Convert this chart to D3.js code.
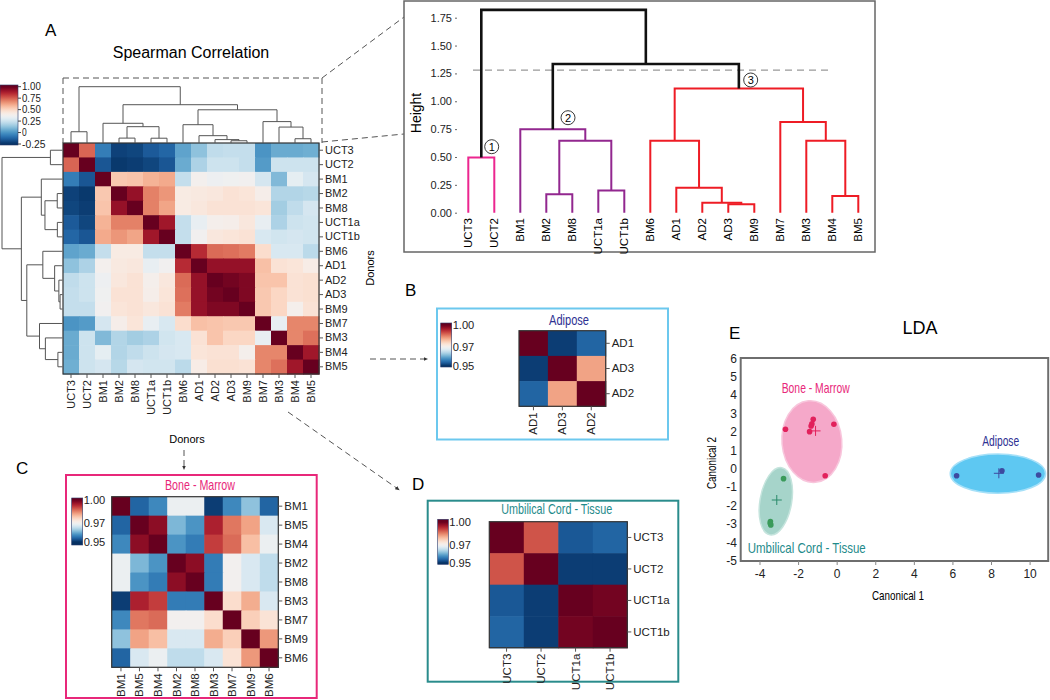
<!DOCTYPE html>
<html><head><meta charset="utf-8">
<script src="https://cdn.jsdelivr.net/npm/d3@7"></script>
<style>body{margin:0;background:#fff;} svg{display:block;}</style>
</head><body><svg id="c" width="1050" height="700"></svg>
<script>
// ---------------- DATA ----------------
const leaves = ["UCT3","UCT2","BM1","BM2","BM8","UCT1a","UCT1b","BM6","AD1","AD2","AD3","BM9","BM7","BM3","BM4","BM5"];
// merges: indices < 16 are leaves, >= 16 are earlier merges (16 + k)
const mergePairs = [[10,11],[9,16],[8,17],[7,18],[14,15],[13,20],[12,21],[19,22],[3,4],[5,6],[24,25],[2,26],[27,23],[0,1],[29,28]];
const mergeHeights = [0.075,0.09,0.225,0.645,0.15,0.645,0.815,1.115,0.165,0.2,0.645,0.75,1.335,0.495,1.82];
const mergeGroups = ["red","red","red","red","red","red","red","red","purple","purple","purple","purple","black","pink","black"];
const heatDendroHeights = [0.04,0.06,0.13,0.325,0.076,0.283,0.38,0.59,0.087,0.085,0.29,0.35,0.68,0.2,1.0];
const heightTicks = [0,0.25,0.5,0.75,1.0,1.25,1.5,1.75];
const cutHeight = 1.28;

const corrA = [
 [1.00,0.74,-0.06,-0.21,-0.20,-0.15,-0.12,0.04,0.125,0.22,0.23,0.23,0.00,0.06,0.06,0.07],
 [0.74,1.00,-0.16,-0.23,-0.22,-0.20,-0.16,0.06,0.18,0.25,0.25,0.23,0.02,0.25,0.25,0.25],
 [-0.06,-0.16,1.00,0.54,0.55,0.59,0.61,0.23,0.38,0.35,0.36,0.37,0.27,0.10,0.32,0.27],
 [-0.21,-0.23,0.54,1.00,0.92,0.69,0.65,0.42,0.43,0.44,0.46,0.45,0.40,0.19,0.19,0.20],
 [-0.20,-0.22,0.55,0.92,1.00,0.69,0.62,0.42,0.44,0.46,0.46,0.46,0.45,0.16,0.22,0.27],
 [-0.15,-0.20,0.59,0.69,0.69,1.00,0.90,0.23,0.33,0.39,0.40,0.44,0.33,0.18,0.25,0.26],
 [-0.12,-0.16,0.61,0.65,0.62,0.90,1.00,0.23,0.37,0.44,0.45,0.46,0.28,0.26,0.27,0.26],
 [0.04,0.06,0.23,0.42,0.42,0.23,0.23,1.00,0.85,0.73,0.72,0.70,0.48,0.28,0.28,0.21],
 [0.125,0.18,0.38,0.43,0.44,0.33,0.37,0.85,1.00,0.92,0.92,0.92,0.56,0.46,0.45,0.41],
 [0.22,0.25,0.35,0.44,0.46,0.39,0.44,0.73,0.92,1.00,0.98,0.96,0.55,0.55,0.46,0.47],
 [0.23,0.25,0.36,0.46,0.46,0.40,0.45,0.72,0.92,0.98,1.00,0.96,0.54,0.50,0.46,0.47],
 [0.23,0.23,0.37,0.45,0.46,0.44,0.46,0.70,0.92,0.96,0.96,1.00,0.54,0.50,0.39,0.46],
 [0.00,0.02,0.27,0.40,0.45,0.33,0.28,0.48,0.56,0.55,0.54,0.54,1.00,0.33,0.68,0.68],
 [0.06,0.25,0.10,0.19,0.16,0.18,0.26,0.28,0.46,0.55,0.50,0.50,0.33,1.00,0.68,0.72],
 [0.06,0.25,0.32,0.19,0.22,0.25,0.27,0.28,0.45,0.46,0.46,0.39,0.68,0.68,1.00,0.90],
 [0.07,0.25,0.27,0.20,0.27,0.26,0.26,0.21,0.41,0.47,0.47,0.46,0.68,0.72,0.90,1.00]
];
const legendATicks = [1.0,0.75,0.5,0.25,0,-0.25];
const legendATickLabels = ["1.00","0.75","0.50","0.25","0","-0.25"];

const adLabels = ["AD1","AD3","AD2"];
const corrB = [
 [1.000,0.951,0.954],
 [0.951,1.000,0.982],
 [0.954,0.982,1.000]
];
const bmLabels = ["BM1","BM5","BM4","BM2","BM8","BM3","BM7","BM9","BM6"];
const corrC = [
 [1.000,0.954,0.957,0.969,0.969,0.951,0.957,0.962,0.954],
 [0.954,1.000,0.997,0.961,0.958,0.994,0.986,0.982,0.967],
 [0.957,0.997,1.000,0.958,0.956,0.991,0.987,0.979,0.969],
 [0.969,0.961,0.958,1.000,0.997,0.956,0.970,0.967,0.965],
 [0.969,0.958,0.956,0.997,1.000,0.956,0.970,0.967,0.965],
 [0.951,0.994,0.991,0.956,0.956,1.000,0.975,0.981,0.967],
 [0.957,0.986,0.987,0.970,0.970,0.975,1.000,0.977,0.974],
 [0.962,0.982,0.979,0.967,0.967,0.981,0.977,1.000,0.983],
 [0.954,0.967,0.969,0.965,0.965,0.967,0.974,0.983,1.000]
];
const uctLabels = ["UCT3","UCT2","UCT1a","UCT1b"];
const corrD = [
 [1.000,0.989,0.953,0.954],
 [0.989,1.000,0.951,0.951],
 [0.953,0.951,1.000,0.999],
 [0.954,0.951,0.999,1.000]
];
const subLegendTicks = [1.0,0.97,0.95];
const subLegendLabels = ["1.00","0.97","0.95"];

// LDA
const bmX = [-2.68,-1.24,-1.31,-1.35,-1.43,-0.17,-0.62];
const bmY = [2.15,2.69,2.44,2.33,2.02,2.42,-0.37];
const adX = [6.19,8.54,10.44];
const adY = [-0.37,-0.10,-0.33];
const uctX = [-2.78,-3.46,-3.44,-3.47];
const uctY = [-0.53,-2.86,-3.04,-2.95];
const centroidX = [-1.12,8.38,-3.13];
const centroidY = [2.06,-0.24,-1.69];
const ellipseCX = [-1.31,8.33,-3.18];
const ellipseCY = [1.48,-0.26,-1.76];
const ellipseRX = [1.55,2.47,0.82];
const ellipseRY = [2.22,1.06,1.85];
const ellipseRot = [-5,0,10];
const xTicksE = [-4,-2,0,2,4,6,8,10];
const yTicksE = [6,5,4,3,2,1,0,-1,-2,-3,-4,-5];

// ---------------- DRAW ----------------
const F = '"Liberation Sans", Arial, Helvetica, sans-serif';
const svg = d3.select("#c").attr("font-family", F);
svg.append("rect").attr("width",1050).attr("height",700).attr("fill","#fff");
const defs = svg.append("defs");
defs.append("marker").attr("id","arr").attr("viewBox","0 0 10 10").attr("refX",5).attr("refY",5)
  .attr("markerWidth",5).attr("markerHeight",5).attr("orient","auto")
  .append("path").attr("d","M0,1 L9,5 L0,9 Z").attr("fill","#333");

const colA = d3.scaleDiverging([-0.25, 0.375, 1.0], t => d3.interpolateRdBu(1 - t));
const colS = d3.scaleDiverging([0.95, 0.97, 1.0], t => d3.interpolateRdBu(1 - t));

function nodePositions(leafPos, heights) {
  const pos = leaves.map((l,i) => leafPos(i));
  const h = leaves.map(() => 0);
  mergePairs.forEach((p,k) => { pos.push((pos[p[0]] + pos[p[1]]) / 2); h.push(heights[k]); });
  return {pos, h};
}

let gid = 0;
function heatmap(g, labels, M, color, X0, X1, Y0, Y1, fs) {
  const x = d3.scaleBand(labels, [X0, X1]);
  const y = d3.scaleBand(labels, [Y0, Y1]);
  labels.forEach((r,i) => labels.forEach((c,j) => {
    g.append("rect").attr("x", x(c)).attr("y", y(r))
      .attr("width", x.bandwidth()+0.6).attr("height", y.bandwidth()+0.6)
      .attr("fill", color(M[i][j]));
  }));
  g.append("rect").attr("x",X0).attr("y",Y0).attr("width",X1-X0).attr("height",Y1-Y0)
    .attr("fill","none").attr("stroke","#333").attr("stroke-width",1.2);
  const ra = g.append("g").attr("transform",`translate(${X1},0)`).call(d3.axisRight(y).tickSize(4).tickPadding(2));
  ra.select(".domain").remove();
  ra.attr("font-family",F).attr("font-size",fs);
  ra.selectAll("text").attr("fill","#222");
  ra.selectAll("line").attr("stroke","#555");
  const ba = g.append("g").attr("transform",`translate(0,${Y1})`).call(d3.axisBottom(x).tickSize(4).tickPadding(2));
  ba.select(".domain").remove();
  ba.attr("font-family",F).attr("font-size",fs);
  ba.selectAll("line").attr("stroke","#555");
  ba.selectAll("text").attr("fill","#222").attr("transform","rotate(-90)")
    .attr("text-anchor","end").attr("x",-6).attr("y",0).attr("dy","0.35em");
  return {x,y};
}

function legend(g, color, X, w, yTop, yBot, yScale, ticks, tickLabels, fs, tickLen) {
  const id = "lg" + (gid++);
  const grad = defs.append("linearGradient").attr("id",id).attr("gradientUnits","userSpaceOnUse")
    .attr("x1",0).attr("x2",0).attr("y1",yTop).attr("y2",yBot);
  const d = color.domain();
  for (let i = 0; i <= 30; i++) {
    const yy = yTop + (yBot - yTop) * i / 30;
    let v = yScale.invert(yy);
    v = Math.max(d[0], Math.min(d[2], v));
    grad.append("stop").attr("offset", i/30).attr("stop-color", color(v));
  }
  g.append("rect").attr("x",X).attr("y",yTop).attr("width",w).attr("height",yBot-yTop)
    .attr("fill",`url(#${id})`).attr("stroke","#2a3a6a").attr("stroke-width",0.6);
  ticks.forEach((t,i) => {
    if (tickLen > 0) g.append("line").attr("x1",X+w).attr("x2",X+w+tickLen).attr("y1",yScale(t)).attr("y2",yScale(t)).attr("stroke","#444");
    const tx = g.append("text").attr("x",X+w+tickLen+1).attr("y",yScale(t)).attr("dy","0.35em")
      .attr("font-size",fs).attr("fill","#222").text(tickLabels[i]);
    tx.attr("textLength", tickLabels[i].length * fs * 0.47).attr("lengthAdjust","spacingAndGlyphs");
  });
}

function dashed(x1,y1,x2,y2,arrow) {
  const l = svg.append("line").attr("x1",x1).attr("y1",y1).attr("x2",x2).attr("y2",y2)
    .attr("stroke","#555").attr("stroke-width",1).attr("stroke-dasharray","6,4");
  if (arrow) l.attr("marker-end","url(#arr)");
}

// ===== Panel A =====
svg.append("text").attr("x",45).attr("y",36).attr("font-size",17).text("A");
svg.append("text").attr("x",191).attr("y",58).attr("font-size",16).attr("text-anchor","middle").text("Spearman Correlation");

const gA = svg.append("g");
const hA = heatmap(gA, leaves, corrA, colA, 63, 319, 143, 374, 11);
{
  const np = nodePositions(i => hA.x(leaves[i]) + hA.x.bandwidth()/2, heatDendroHeights);
  const yd = d3.scaleLinear([0,1],[143,86.7]);
  mergePairs.forEach((p,k) => {
    const a = p[0], b = p[1], m = 16+k;
    gA.append("path").attr("d",`M${np.pos[a]},${yd(np.h[a])}V${yd(np.h[m])}H${np.pos[b]}V${yd(np.h[b])}`)
      .attr("fill","none").attr("stroke","#555").attr("stroke-width",1);
  });
  const npr = nodePositions(i => hA.y(leaves[i]) + hA.y.bandwidth()/2, heatDendroHeights);
  const xd = d3.scaleLinear([0,1],[62.5,2]);
  mergePairs.forEach((p,k) => {
    const a = p[0], b = p[1], m = 16+k;
    gA.append("path").attr("d",`M${xd(npr.h[a])},${npr.pos[a]}H${xd(npr.h[m])}V${npr.pos[b]}H${xd(npr.h[b])}`)
      .attr("fill","none").attr("stroke","#555").attr("stroke-width",1);
  });
}
legend(svg.append("g"), colA, 0, 18, 85, 145, d3.scaleLinear([-0.25,1],[144,86.7]), legendATicks, legendATickLabels, 10, 3);

svg.append("text").attr("x",187).attr("y",443).attr("font-size",11).attr("text-anchor","middle").text("Donors");
svg.append("text").attr("transform","translate(374,268) rotate(-90)").attr("font-size",11).attr("text-anchor","middle").text("Donors");

dashed(63,78,322,78); dashed(63,78,63,143); dashed(322,78,322,143);
dashed(322,78,404,17); dashed(322,142,404,134);

// ===== Dendrogram box =====
svg.append("rect").attr("x",404).attr("y",1).attr("width",471).attr("height",251)
  .attr("fill","#fff").attr("stroke","#666").attr("stroke-width",1.5);
{
  const gD = svg.append("g");
  const xs = d3.scalePoint(leaves,[468.3,858.3]);
  const ys = d3.scaleLinear([0,1.75],[212.7,17.7]);
  const cols = {red:"#ee1c25", purple:"#92278f", pink:"#ec268f", black:"#111"};
  const np = nodePositions(i => xs(leaves[i]), mergeHeights);
  gD.append("line").attr("x1",473).attr("x2",832).attr("y1",ys(cutHeight)).attr("y2",ys(cutHeight))
    .attr("stroke","#999").attr("stroke-width",1.2).attr("stroke-dasharray","7,5");
  mergePairs.forEach((p,k) => {
    const a = p[0], b = p[1], m = 16+k;
    const c = cols[mergeGroups[k]];
    gD.append("path").attr("d",`M${np.pos[a]},${ys(np.h[a])}V${ys(np.h[m])}H${np.pos[b]}V${ys(np.h[b])}`)
      .attr("fill","none").attr("stroke",c).attr("stroke-width",mergeGroups[k]==="black"?2.6:2);
  });
  const ax = gD.append("g").attr("transform","translate(457,0)")
    .call(d3.axisLeft(ys).tickValues(heightTicks).tickFormat(d3.format(".2f")).tickSize(2).tickPadding(3));
  ax.select(".domain").remove();
  ax.attr("font-family",F).attr("font-size",11);
  ax.selectAll("text").attr("fill","#222");
  ax.selectAll("line").attr("stroke","#666");
  gD.append("text").attr("transform","translate(421,113) rotate(-90)").attr("text-anchor","middle")
    .attr("font-size",14).text("Height");
  leaves.forEach(l => {
    gD.append("text").attr("transform",`translate(${xs(l)},218) rotate(-90)`).attr("text-anchor","end")
      .attr("dy","0.35em").attr("font-size",11.5).text(l);
  });
  [[491.7,146.7,"1"],[568,117.7,"2"],[750.7,80,"3"]].forEach(c => {
    gD.append("circle").attr("cx",c[0]).attr("cy",c[1]).attr("r",7).attr("fill","#fff").attr("stroke","#222").attr("stroke-width",0.9);
    gD.append("text").attr("x",c[0]).attr("y",c[1]).attr("dy","0.36em").attr("text-anchor","middle").attr("font-size",11).text(c[2]);
  });
}

// ===== Panel B =====
svg.append("text").attr("x",405).attr("y",296).attr("font-size",17).text("B");
dashed(370,359,426,359,true);
svg.append("rect").attr("x",437).attr("y",308.5).attr("width",231).attr("height",131)
  .attr("fill","#fff").attr("stroke","#6cc8ee").attr("stroke-width",2);
{
  const g = svg.append("g");
  heatmap(g, adLabels, corrB, colS, 519, 605.7, 330.7, 406.3, 11.5);
  g.append("text").attr("x",569).attr("y",325).attr("text-anchor","middle").attr("font-size",14.5)
    .attr("fill","#2e3192").attr("textLength",40).attr("lengthAdjust","spacingAndGlyphs").text("Adipose");
  legend(g, colS, 440.7, 11, 323, 367, d3.scaleLinear([0.95,0.97,1.0],[366,347,325]), subLegendTicks, subLegendLabels, 11.5, 0);
}

// ===== Panel C =====
svg.append("text").attr("x",16).attr("y",474).attr("font-size",17).text("C");
dashed(184,450,184,468,true);
dashed(288,412,398,489,true);
svg.append("rect").attr("x",66).attr("y",475).attr("width",250.7).attr("height",223)
  .attr("fill","#fff").attr("stroke","#e8287a").attr("stroke-width",2);
{
  const g = svg.append("g");
  heatmap(g, bmLabels, corrC, colS, 111.7, 278.3, 496.7, 667.3, 11.5);
  g.append("text").attr("x",200).attr("y",490).attr("text-anchor","middle").attr("font-size",14.5)
    .attr("fill","#e8287a").attr("textLength",70).attr("lengthAdjust","spacingAndGlyphs").text("Bone - Marrow");
  legend(g, colS, 71.7, 11, 498, 545, d3.scaleLinear([0.95,0.97,1.0],[542,523,500]), subLegendTicks, subLegendLabels, 11.5, 0);
}

// ===== Panel D =====
svg.append("text").attr("x",412).attr("y",490).attr("font-size",17).text("D");
svg.append("rect").attr("x",427.7).attr("y",500.7).attr("width",250.6).attr("height",181)
  .attr("fill","#fff").attr("stroke","#2a8c8c").attr("stroke-width",2);
{
  const g = svg.append("g");
  heatmap(g, uctLabels, corrD, colS, 489.3, 627.3, 521.7, 647.7, 11.5);
  g.append("text").attr("x",556.7).attr("y",514).attr("text-anchor","middle").attr("font-size",14.5)
    .attr("fill","#1f8b8b").attr("textLength",111).attr("lengthAdjust","spacingAndGlyphs").text("Umbilical Cord - Tissue");
  legend(g, colS, 437.7, 10.6, 519.3, 564.3, d3.scaleLinear([0.95,0.97,1.0],[563,545,522]), subLegendTicks, subLegendLabels, 11.5, 0);
}

// ===== Panel E =====
svg.append("text").attr("x",729).attr("y",339).attr("font-size",17).text("E");
svg.append("text").attr("x",920).attr("y",334).attr("font-size",18).attr("text-anchor","middle").text("LDA");
{
  const g = svg.append("g");
  const xs = d3.scaleLinear([-5,11],[740.7,1049.4]);
  const ys = d3.scaleLinear([-5,6],[561,358.3]);
  const fills = ["#f5a8c9","#5ec8f2","#a6d4ca"];
  const strokes = ["#f8c6dc","#a6e0f8","#c5e4dd"];
  ellipseCX.forEach((cx,i) => {
    const rx = xs(cx+ellipseRX[i]) - xs(cx), ry = ys(ellipseCY[i]) - ys(ellipseCY[i]+ellipseRY[i]);
    g.append("ellipse").attr("transform",`translate(${xs(cx)},${ys(ellipseCY[i])}) rotate(${ellipseRot[i]})`)
      .attr("rx",rx).attr("ry",ry).attr("fill",fills[i]).attr("stroke",strokes[i]).attr("stroke-width",1.5);
  });
  const ptCols = ["#e2215c","#3d4aa0","#3a9a5a"];
  const groups = [[bmX,bmY],[adX,adY],[uctX,uctY]];
  groups.forEach((gr,i) => gr[0].forEach((x,j) => {
    g.append("circle").attr("cx",xs(x)).attr("cy",ys(gr[1][j])).attr("r",2.8).attr("fill",ptCols[i]);
  }));
  const crossCols = ["#e2215c","#3d4aa0","#2a8a6a"];
  centroidX.forEach((cx,i) => {
    const px = xs(cx), py = ys(centroidY[i]);
    g.append("path").attr("d",`M${px-5},${py}H${px+5}M${px},${py-5}V${py+5}`).attr("stroke",crossCols[i]).attr("stroke-width",1);
  });
  g.append("rect").attr("x",740.7).attr("y",358).attr("width",307.5).attr("height",203)
    .attr("fill","none").attr("stroke","#6e6e6e").attr("stroke-width",2);
  xTicksE.forEach(t => {
    g.append("line").attr("x1",xs(t)).attr("x2",xs(t)).attr("y1",561).attr("y2",565).attr("stroke","#888");
    g.append("text").attr("x",xs(t)).attr("y",578).attr("text-anchor","middle").attr("font-size",12).attr("fill","#222").text(t);
  });
  yTicksE.forEach(t => {
    g.append("text").attr("x",737).attr("y",ys(t)).attr("dy","0.35em").attr("text-anchor","end").attr("font-size",12).attr("fill","#222").text(t);
  });
  g.append("text").attr("x",898).attr("y",600).attr("text-anchor","middle").attr("font-size",13)
    .attr("textLength",52).attr("lengthAdjust","spacingAndGlyphs").text("Canonical 1");
  g.append("text").attr("transform","translate(716,463) rotate(-90)").attr("text-anchor","middle").attr("font-size",13)
    .attr("textLength",52).attr("lengthAdjust","spacingAndGlyphs").text("Canonical 2");
  g.append("text").attr("x",815.7).attr("y",393).attr("text-anchor","middle").attr("font-size",14.5).attr("fill","#e8287a")
    .attr("textLength",68).attr("lengthAdjust","spacingAndGlyphs").text("Bone - Marrow");
  g.append("text").attr("x",1000.7).attr("y",446).attr("text-anchor","middle").attr("font-size",14.5).attr("fill","#2e3192")
    .attr("textLength",37).attr("lengthAdjust","spacingAndGlyphs").text("Adipose");
  g.append("text").attr("x",806.7).attr("y",553).attr("text-anchor","middle").attr("font-size",14.5).attr("fill","#1f8b8b")
    .attr("textLength",118).attr("lengthAdjust","spacingAndGlyphs").text("Umbilical Cord - Tissue");
}
</script></body></html>
